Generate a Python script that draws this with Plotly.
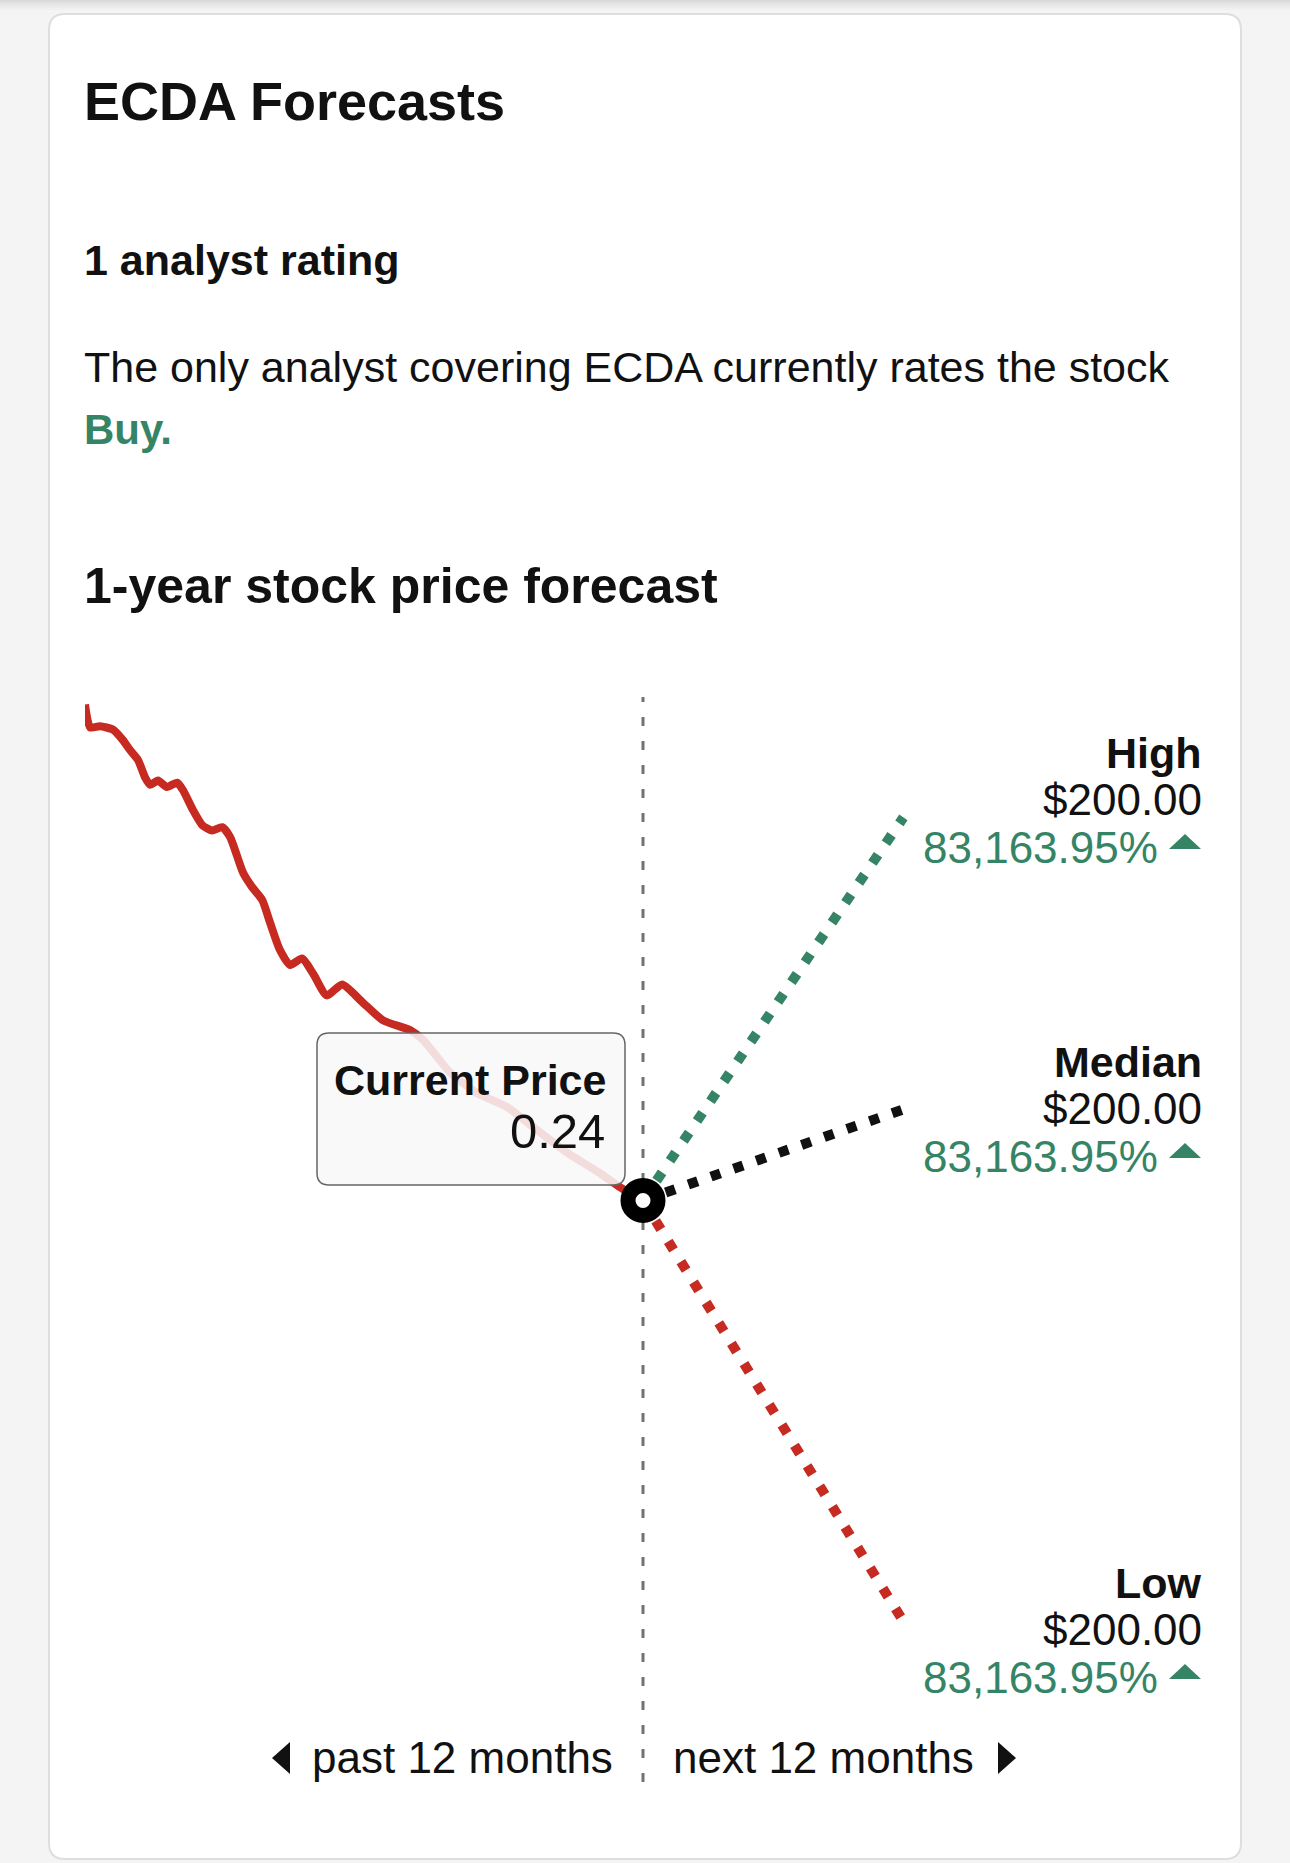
import plotly.graph_objects as go

W, H = 1290, 1863
FONT = "Liberation Sans, Arial, sans-serif"
GREEN = "#358466"
RED = "#c62a20"
INK = "#111111"

ticker = "ECDA"
n_analysts = 1
rating = "Buy."
current_price = 0.24

# past 12 months, months before today vs. chart level (0-100, hidden axis)
past_month = [-12.0, -11.89, -11.68, -11.40, -11.18, -11.03, -10.86, -10.71, -10.60,
              -10.43, -10.24, -10.02, -9.89, -9.68, -9.48, -9.27, -9.05, -8.88,
              -8.60, -8.41, -8.19, -8.02, -7.81, -7.59, -7.33, -7.08, -6.80, -6.47,
              -6.04, -5.59, -5.01, -4.73, -4.15, -3.57, -2.92, -2.37, -1.63, -0.92,
              -0.49, 0.0]
past_level = [99.3, 97.2, 97.3, 97.0, 96.0, 95.1, 94.2, 92.6, 91.9,
              92.3, 91.7, 92.1, 91.4, 89.6, 88.2, 87.7, 88.0, 87.1,
              83.8, 82.5, 81.3, 79.2, 76.7, 75.3, 75.9, 74.4, 72.5, 73.5,
              71.9, 70.2, 69.3, 68.4, 65.4, 63.5, 62.2, 60.4, 58.0, 56.1,
              54.8, 53.6]

forecast_names = ["High", "Median", "Low"]
forecast_prices = [200.00, 200.00, 200.00]
forecast_pct = [83163.95, 83163.95, 83163.95]
forecast_month = [5.6, 5.6, 5.7]
forecast_level = [88.9, 62.0, 14.1]
forecast_colors = [GREEN, INK, RED]


def px(x, y):
    return x / W, 1 - y / H


fig = go.Figure()

fig.add_trace(go.Scatter(x=past_month, y=past_level, mode="lines",
                         line=dict(color=RED, width=8, shape="spline", smoothing=0.6),
                         hoverinfo="skip"))

for m, lv, c in zip(forecast_month, forecast_level, forecast_colors):
    fig.add_trace(go.Scatter(x=[past_month[-1], m], y=[past_level[-1], lv], mode="lines",
                             line=dict(color=c, width=10, dash="10px,14px"),
                             hoverinfo="skip"))

fig.add_trace(go.Scatter(x=[past_month[-1]], y=[past_level[-1]], mode="markers",
                         marker=dict(size=30, color="white", line=dict(color="black", width=15)),
                         hoverinfo="skip"))

shapes = []
# faint shadow along the top edge
for i, a in enumerate([0.10, 0.07, 0.05, 0.03, 0.015]):
    x0, y0 = px(0, i * 2)
    x1, y1 = px(W, i * 2 + 2)
    shapes.append(dict(type="rect", xref="paper", yref="paper", x0=x0, y0=y0, x1=x1, y1=y1,
                       fillcolor=f"rgba(0,0,0,{a})", line=dict(width=0), layer="below"))


def rounded(x0, y0, x1, y1, r):
    pts = []
    a, b = px(x0 + r, y0)
    pts.append(f"M{a},{b}")
    a, b = px(x1 - r, y0); pts.append(f"L{a},{b}")
    a, b = px(x1, y0); c, d = px(x1, y0 + r); pts.append(f"Q{a},{b} {c},{d}")
    a, b = px(x1, y1 - r); pts.append(f"L{a},{b}")
    a, b = px(x1, y1); c, d = px(x1 - r, y1); pts.append(f"Q{a},{b} {c},{d}")
    a, b = px(x0 + r, y1); pts.append(f"L{a},{b}")
    a, b = px(x0, y1); c, d = px(x0, y1 - r); pts.append(f"Q{a},{b} {c},{d}")
    a, b = px(x0, y0 + r); pts.append(f"L{a},{b}")
    a, b = px(x0, y0); c, d = px(x0 + r, y0); pts.append(f"Q{a},{b} {c},{d}")
    return " ".join(pts) + " Z"


shapes.append(dict(type="path", xref="paper", yref="paper", path=rounded(49, 14, 1241, 1859, 16),
                   fillcolor="white", line=dict(color="#dedede", width=2), layer="below"))

# divider between past and next
shapes.append(dict(type="line", xref="x", yref="y", x0=0, x1=0, y0=0, y1=100,
                   line=dict(color="#727272", width=3, dash="9px,15px"), layer="below"))

# current price box
shapes.append(dict(type="path", xref="paper", yref="paper", path=rounded(317, 1033, 625, 1185, 12),
                   fillcolor="rgba(248,248,248,0.87)", line=dict(color="#666666", width=1.5),
                   layer="above"))


def tri(points, color):
    s = []
    for i, (x, y) in enumerate(points):
        a, b = px(x, y)
        s.append(("M" if i == 0 else "L") + f"{a},{b}")
    return dict(type="path", xref="paper", yref="paper", path=" ".join(s) + " Z",
                fillcolor=color, line=dict(width=0), layer="above")


label_mid = [799, 1108, 1629]
for y in label_mid:
    yc = y + 43
    shapes.append(tri([(1169, yc + 7), (1201, yc + 7), (1185, yc - 8)], GREEN))

shapes.append(tri([(290, 1742), (290, 1774), (272, 1758)], INK))
shapes.append(tri([(998, 1742), (998, 1774), (1016, 1758)], INK))

fig.update_layout(shapes=shapes)


def label(text, x, y, size, bold=False, color=INK, xanchor="left"):
    a, b = px(x, y)
    fig.add_annotation(x=a, y=b, xref="paper", yref="paper",
                       text=f"<b>{text}</b>" if bold else text, showarrow=False,
                       xanchor=xanchor, yanchor="middle",
                       font=dict(size=size, color=color, family=FONT))


label(f"{ticker} Forecasts", 82, 101, 54, bold=True)
label(f"{n_analysts} analyst rating", 82, 260, 43, bold=True)
label(f"The only analyst covering {ticker} currently rates the stock", 82, 367, 43)
label(rating, 82, 429, 42, bold=True, color=GREEN)
label("1-year stock price forecast", 82, 586, 50, bold=True)

label("Current Price", 608, 1080, 43, bold=True, xanchor="right")
label(f"{current_price:.2f}", 607, 1131, 49, xanchor="right")

for name, price, pct, y in zip(forecast_names, forecast_prices, forecast_pct, label_mid):
    label(name, 1204, y - 46, 43, bold=True, xanchor="right")
    label(f"${price:,.2f}", 1204, y, 44, xanchor="right")
    label(f"{pct:,.2f}%", 1160, y + 48, 44, color=GREEN, xanchor="right")

label("past 12 months", 310, 1757, 44)
label("next 12 months", 671, 1757, 44)

fig.update_layout(
    width=W, height=H,
    margin=dict(l=0, r=0, t=0, b=0),
    paper_bgcolor="#f4f4f4",
    plot_bgcolor="rgba(0,0,0,0)",
    showlegend=False,
    xaxis=dict(domain=[85 / W, 1201 / W], range=[-12, 12], visible=False, fixedrange=True),
    yaxis=dict(domain=[1 - 1782 / H, 1 - 697 / H], range=[0, 100], visible=False, fixedrange=True),
)

fig.write_html("out.html", config={"displayModeBar": False},
               post_script="document.body.style.margin='0';")
